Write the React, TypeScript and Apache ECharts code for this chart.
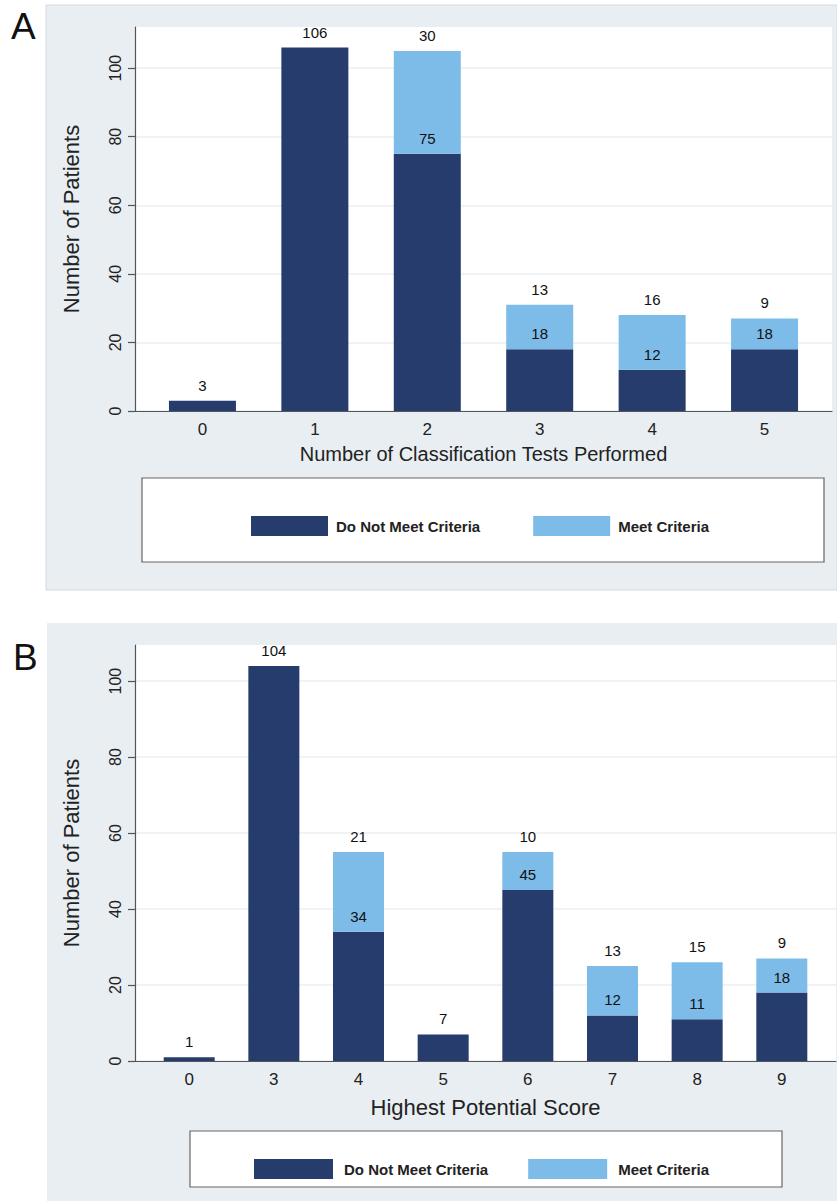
import React, { useEffect, useRef } from "react";
import * as echarts from "echarts";

// Panel A data
const catsA = ["0", "1", "2", "3", "4", "5"];
const notMeetA = [3, 106, 75, 18, 12, 18];
const meetA = [0, 0, 30, 13, 16, 9];

// Panel B data
const catsB = ["0", "3", "4", "5", "6", "7", "8", "9"];
const notMeetB = [1, 104, 34, 7, 45, 12, 11, 18];
const meetB = [0, 0, 21, 0, 10, 13, 15, 9];

const yTicks = [0, 20, 40, 60, 80, 100];
const SERIES_NAMES = ["Do Not Meet Criteria", "Meet Criteria"];
const DARK = "#263c6c";
const LIGHT = "#7dbce8";
const FONT = "Liberation Sans, Arial, sans-serif";

export default function App() {
  const ref = useRef<HTMLDivElement>(null);
  useEffect(() => {
    document.body.style.margin = "0";
    if (!ref.current) return;
    const chart = echarts.init(ref.current, null, { renderer: "svg" });

    // data rows are [value, index]; encode puts the value on y so the stack applies to y
    const labelFmt = (p: any) => (p.value[0] > 0 ? String(p.value[0]) : "");
    const barLabel = {
      show: true,
      position: "top",
      distance: 8,
      fontSize: 15,
      color: "#111",
      fontFamily: FONT,
      formatter: labelFmt,
    };

    const mkX = (idx: number, cats: string[], name: string, nameSize: number, gap: number, pad: number) => ({
      type: "value",
      gridIndex: idx,
      min: -pad,
      max: cats.length - 1 + pad,
      name,
      nameLocation: "middle",
      nameGap: gap,
      nameTextStyle: { fontSize: nameSize, color: "#222", fontFamily: FONT },
      axisLine: { show: true, onZero: false, lineStyle: { color: "#555", width: 1.2 } },
      axisTick: { show: false },
      splitLine: { show: false },
      axisLabel: {
        customValues: cats.map((_, i) => i),
        formatter: (v: number) => cats[Math.round(v)],
        fontSize: 17,
        color: "#222",
        margin: 10,
        fontFamily: FONT,
      },
    });

    const mkY = (idx: number, max: number) => ({
      type: "value",
      gridIndex: idx,
      min: 0,
      max,
      interval: 20,
      name: "Number of Patients",
      nameLocation: "middle",
      nameGap: 53,
      nameRotate: 90,
      nameTextStyle: { fontSize: 22, color: "#222", fontFamily: FONT },
      axisLine: { show: true, onZero: false, lineStyle: { color: "#555", width: 1.2 } },
      axisTick: {
        show: true,
        length: 7,
        customValues: yTicks,
        lineStyle: { color: "#555", width: 1.2 },
      },
      splitLine: { show: true, lineStyle: { color: "#eaeff2", width: 1.5 } },
      axisLabel: {
        customValues: yTicks,
        rotate: 90,
        fontSize: 16,
        color: "#222",
        margin: 12,
        fontFamily: FONT,
      },
    });

    const rows = (arr: number[]) => arr.map((v, i) => [v, i]);

    const mkSeries = (nm: string, x: number, stack: string, w: number, color: string, arr: number[]) => ({
      name: nm,
      type: "bar",
      xAxisIndex: x,
      yAxisIndex: x,
      stack,
      barWidth: w,
      encode: { x: 1, y: 0 },
      itemStyle: { color },
      label: barLabel,
      data: rows(arr),
    });

    const option: any = {
      animation: false,
      textStyle: { fontFamily: FONT },
      grid: [
        { left: 135, top: 27, width: 697, height: 384, show: true, backgroundColor: "#fff", borderWidth: 0 },
        { left: 135, top: 645, width: 701, height: 416, show: true, backgroundColor: "#fff", borderWidth: 0 },
      ],
      xAxis: [
        mkX(0, catsA, "Number of Classification Tests Performed", 20, 33, 0.6),
        mkX(1, catsB, "Highest Potential Score", 22, 35, 0.64),
      ],
      yAxis: [mkY(0, 112), mkY(1, 109.5)],
      legend: [
        {
          data: SERIES_NAMES,
          left: 251,
          top: 516,
          padding: 0,
          itemWidth: 77,
          itemHeight: 20,
          itemGap: 53,
          icon: "rect",
          selectedMode: false,
          textStyle: { fontSize: 15, fontWeight: "bold", color: "#222", fontFamily: FONT, padding: [0, 0, 0, 3] },
        },
        {
          data: SERIES_NAMES,
          left: 254,
          top: 1159,
          padding: 0,
          itemWidth: 79,
          itemHeight: 20,
          itemGap: 40,
          icon: "rect",
          selectedMode: false,
          textStyle: { fontSize: 15, fontWeight: "bold", color: "#222", fontFamily: FONT, padding: [0, 0, 0, 6] },
        },
      ],
      graphic: [
        { type: "rect", z: -10, shape: { x: 46, y: 5, width: 791, height: 585 }, style: { fill: "#e8eef2", stroke: "#d4dadf", lineWidth: 1 } },
        { type: "rect", z: -10, shape: { x: 47, y: 623, width: 790, height: 578 }, style: { fill: "#e8eef2" } },
        { type: "rect", z: -5, shape: { x: 142, y: 478, width: 682, height: 84 }, style: { fill: "#fff", stroke: "#666", lineWidth: 1.2 } },
        { type: "rect", z: -5, shape: { x: 190, y: 1131, width: 592, height: 56 }, style: { fill: "#fff", stroke: "#666", lineWidth: 1.2 } },
        { type: "text", left: 11, top: 8, style: { text: "A", fontSize: 37, fill: "#111", fontFamily: FONT } },
        { type: "text", left: 13, top: 639, style: { text: "B", fontSize: 37, fill: "#111", fontFamily: FONT } },
      ],
      series: [
        mkSeries(SERIES_NAMES[0], 0, "a", 67, DARK, notMeetA),
        mkSeries(SERIES_NAMES[1], 0, "a", 67, LIGHT, meetA),
        mkSeries(SERIES_NAMES[0], 1, "b", 51, DARK, notMeetB),
        mkSeries(SERIES_NAMES[1], 1, "b", 51, LIGHT, meetB),
      ],
    };
    chart.setOption(option);
    return () => chart.dispose();
  }, []);
  return <div ref={ref} style={{ width: 837, height: 1201 }} />;
}
